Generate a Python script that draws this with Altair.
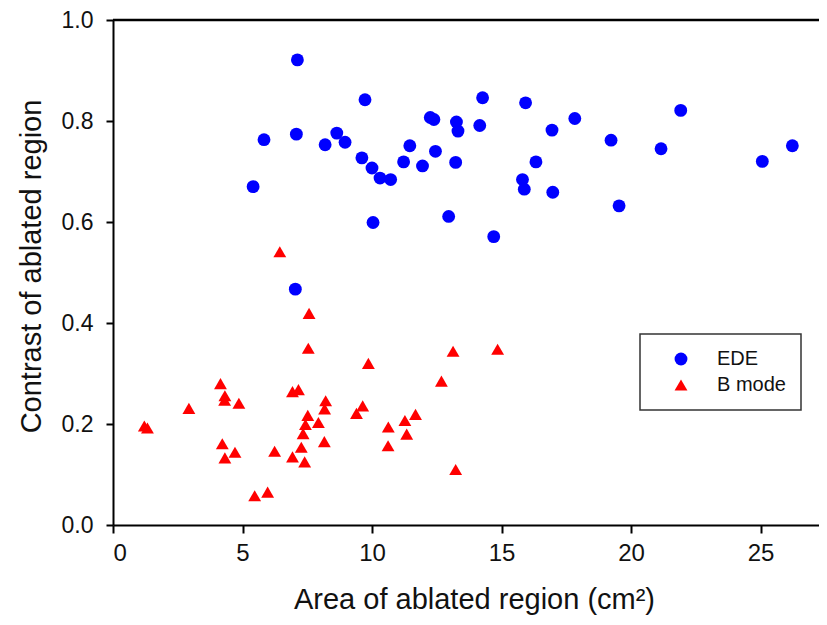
import altair as alt
import pandas as pd

# EDE series
ede_area = [7.12, 9.73, 12.25, 12.39, 13.26, 13.32, 5.83, 7.08, 8.19, 8.64,
            8.96, 11.46, 9.61, 12.45, 11.22, 10.00, 11.95, 13.23, 10.31, 10.72,
            5.41, 12.96, 10.04, 7.04, 14.27, 15.93, 21.92, 17.83, 14.16, 16.95,
            19.23, 21.16, 26.23, 25.07, 16.33, 15.81, 15.88, 16.98, 19.54, 14.70]
ede_contrast = [0.921, 0.842, 0.807, 0.803, 0.798, 0.780, 0.763, 0.774, 0.753, 0.776,
                0.758, 0.751, 0.727, 0.740, 0.719, 0.707, 0.711, 0.718, 0.687, 0.684,
                0.670, 0.611, 0.599, 0.467, 0.846, 0.836, 0.821, 0.805, 0.791, 0.782,
                0.762, 0.745, 0.751, 0.720, 0.719, 0.684, 0.665, 0.659, 0.632, 0.571]

# B mode series
bmode_area = [7.57, 7.54, 9.86, 13.13, 12.68, 4.15, 6.93, 7.16, 4.32, 4.31,
              4.86, 2.93, 8.21, 8.17, 9.64, 9.40, 7.52, 7.43, 7.93, 7.34,
              1.21, 1.33, 10.63, 11.27, 11.68, 11.34, 10.62, 8.16, 4.22, 7.27,
              4.71, 4.32, 6.24, 6.93, 7.40, 13.23, 5.47, 5.97, 6.44, 14.85]
bmode_contrast = [0.419, 0.350, 0.320, 0.344, 0.285, 0.280, 0.264, 0.268, 0.256, 0.247,
                  0.241, 0.231, 0.246, 0.230, 0.236, 0.221, 0.217, 0.199, 0.203, 0.181,
                  0.196, 0.192, 0.194, 0.207, 0.219, 0.180, 0.157, 0.165, 0.161, 0.154,
                  0.144, 0.133, 0.146, 0.135, 0.125, 0.110, 0.058, 0.065, 0.541, 0.348]

series_names = ["EDE", "B mode"]
series_colors = ["#0000FF", "#FF0000"]
series_shapes = ["circle", "triangle-up"]

x_ticks = [0, 5, 10, 15, 20, 25]
y_ticks = [0.0, 0.2, 0.4, 0.6, 0.8, 1.0]

df = pd.DataFrame({
    "area": ede_area + bmode_area,
    "contrast": ede_contrast + bmode_contrast,
    "series": ["EDE"] * len(ede_area) + ["B mode"] * len(bmode_area),
})
top_df = pd.DataFrame({"y": [1.0]})

FONT = "Liberation Sans"
W, H = 706, 505

x_scale = alt.Scale(domain=[0, W / 25.9], nice=False, zero=False)
y_scale = alt.Scale(domain=[0, 1.0], nice=False)

legend = alt.Legend(title=None, orient="none", legendX=527, legendY=314,
                    padding=15, symbolOffset=16, labelOffset=26, rowPadding=6,
                    labelFontSize=20, labelFont=FONT, labelColor="#111",
                    symbolSize=165, strokeColor="#333")

points = alt.Chart(df).mark_point(filled=True, opacity=1, size=165).encode(
    x=alt.X("area:Q", scale=x_scale,
            axis=alt.Axis(title="Area of ablated region (cm²)", values=x_ticks,
                          format="d", grid=False, domainColor="black",
                          domainWidth=2, tickColor="black", tickWidth=2,
                          tickSize=8, labelPadding=8, labelFontSize=24,
                          labelColor="#111", labelFont=FONT,
                          titleFont=FONT, titleFontSize=29, titleFontWeight="normal",
                          titleColor="#111", titlePadding=20, titleX=361)),
    y=alt.Y("contrast:Q", scale=y_scale,
            axis=alt.Axis(title="Contrast of ablated region", values=y_ticks,
                          format=".1f", grid=False, domainColor="black",
                          domainWidth=2, tickColor="black", tickWidth=2,
                          tickSize=7, labelPadding=13, labelFontSize=23,
                          labelColor="#111", labelFont=FONT,
                          titleFont=FONT, titleFontSize=29, titleFontWeight="normal",
                          titleColor="#111", titlePadding=15, titleY=246)),
    color=alt.Color("series:N",
                    scale=alt.Scale(domain=series_names, range=series_colors),
                    legend=legend),
    shape=alt.Shape("series:N",
                    scale=alt.Scale(domain=series_names, range=series_shapes),
                    legend=legend),
)

top_rule = alt.Chart(top_df).mark_rule(color="black", strokeWidth=2.5).encode(
    y=alt.Y("y:Q", scale=y_scale)
)

chart = alt.layer(points, top_rule).properties(
    width=W, height=H,
    autosize=alt.AutoSizeParams(type="none"),
    padding={"left": 105, "top": 12, "right": 0, "bottom": 92},
).configure_view(stroke=None).configure_legend(strokeWidth=1.5)

chart.save("out.html", embed_options={"renderer": "svg", "actions": False})
